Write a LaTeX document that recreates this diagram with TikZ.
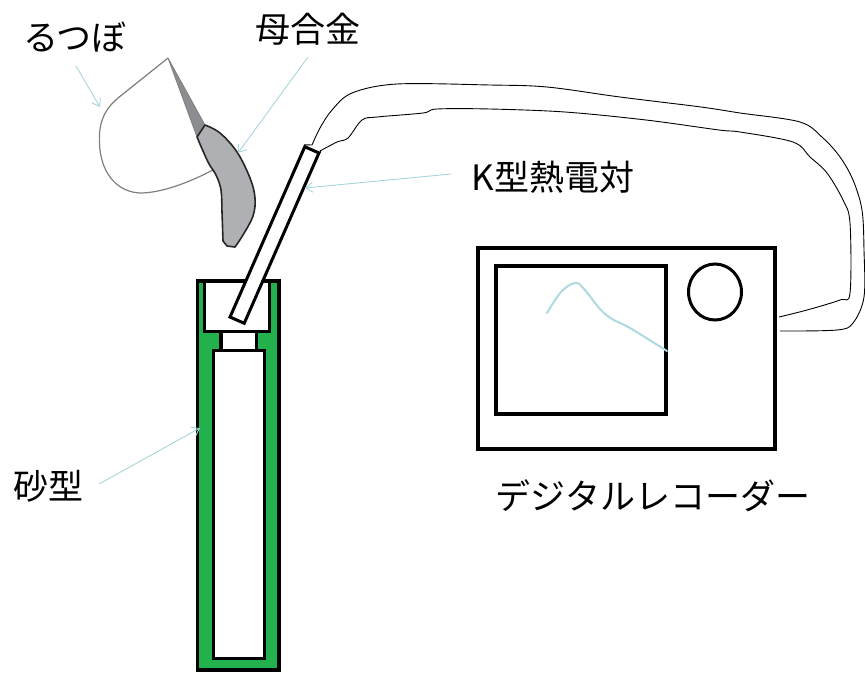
\documentclass[tikz,border=0pt]{standalone}
\usepackage{fontspec}
\newfontfamily\jpfont{Noto Sans CJK JP}
\usetikzlibrary{arrows.meta,shapes.geometric}
\definecolor{moldgreen}{HTML}{22B14C}
\definecolor{callblue}{HTML}{A6D6DB}
\definecolor{curveblue}{HTML}{AEDADF}
\definecolor{alloygray}{HTML}{AFB0B3}
\definecolor{rimgray}{HTML}{8C8D90}
\definecolor{potline}{HTML}{7F7F7F}
\tikzset{
  lbl/.style={font=\jpfont\fontsize{35}{40}\selectfont, inner sep=0pt, anchor=center},
  callout/.style={draw=callblue, line width=0.9pt, -{Straight Barb[length=7pt,width=10pt,line width=0.9pt]}},
  heavy/.style={draw=black, line width=3.2pt},
  wire/.style={draw=black, line width=0.9pt, line join=round},
}
\begin{document}
\begin{tikzpicture}[x=1pt,y=-1pt]
\useasboundingbox (0,0) rectangle (865,673);

% crucible body
\filldraw[fill=white, draw=potline, line width=1.2pt]
  (168,58) -- (118,98) .. controls (100,113) and (98,130) .. (100,150)
  .. controls (103,175) and (118,192) .. (140,193)
  .. controls (162,193) and (190,182) .. (213,170);
% inner rim of the crucible
\filldraw[fill=rimgray, draw=potline, line width=0.8pt]
  (168,58) -- (205,125) -- (197,137) -- cycle;
% molten master alloy pouring out
\filldraw[fill=alloygray, draw=black!85, line width=1.6pt, line join=round]
  (197,137) -- (205,125)
  -- plot[smooth, tension=0.6] coordinates {(205,125) (220,133) (237,152) (250,178) (255,198) (253,216) (243,235) (235,247)}
  -- (227,246) -- (223,241)
  -- plot[smooth, tension=0.6] coordinates {(223,241) (222,212) (221,190) (216,175) (208,162) (197,137)}
  -- cycle;

% sand mould
\filldraw[fill=moldgreen, heavy] (197.5,281) rectangle (279,670);
\filldraw[fill=white, heavy] (204.5,281) rectangle (269.5,331.5);
\filldraw[fill=white, heavy] (221,331.5) rectangle (256.5,350.5);
\filldraw[fill=white, heavy] (213.5,350.5) rectangle (264.5,658.5);
\draw[heavy] (197.5,281) -- (279,281);

% K-type thermocouple
\node[draw=black, line width=3pt, fill=white, minimum width=186pt, minimum height=15.5pt,
      inner sep=0pt, rotate=66.3] (tc) at (274.5,235) {};

% thermocouple lead
\draw[wire] (tc.north east) -- plot[smooth, tension=0.55] coordinates {
  (312,145) (320,128) (332,110) (352,93) (397,84) (490,85) (547,87) (620,97)
  (701,107) (740,113) (800,122) (823,138) (840,157) (853,180) (862,210)
  (864,250) (864,297) (853,323) (837,330) (780,331)} coordinate (leadA);
\draw[wire] (tc.south east) -- plot[smooth, tension=0.55] coordinates {
  (320,151) (337,142) (348,138) (362,120) (377,117) (423,113) (437,109) (490,109)
  (565,112) (646,120) (719,130) (740,132) (793,142) (810,157) (827,173)
  (843,200) (850,223) (850,293) (840,300) (807,310) (779,317)} coordinate (leadB);

% digital recorder
\node[draw=black, line width=3.2pt, fill=white, minimum width=297pt, minimum height=201pt,
      inner sep=0pt] (recorder) at (626.5,348.5) {};
\node[draw=black, line width=3.2pt, minimum width=170pt, minimum height=148pt,
      inner sep=0pt] (screen) at (581,340) {};
\node[draw=black, line width=3pt, ellipse, minimum width=53pt, minimum height=56pt,
      inner sep=0pt] (dial) at (715,292) {};
\draw[curveblue, line width=2pt, line cap=round]
  plot[smooth, tension=0.6] coordinates {(547,313) (561,292) (575,283) (584,289) (600,309) (612,319) (630,328) (667,351)};

% labels
\node[lbl] (tsubo) at (75,37) {るつぼ};
\node[lbl] (alloy) at (308,29) {母合金};
\node[lbl] (tclabel) at (553,177) {K型熱電対};
\node[lbl] (sand) at (48,486) {砂型};
\node[lbl] (reclabel) at (653,496) {デジタルレコーダー};

% leaders
\coordinate (tsuboS) at (76,66);   \coordinate (tsuboT) at (100,107);
\coordinate (alloyS) at (308,57);  \coordinate (alloyT) at (238,153);
\coordinate (tcS) at (451,174);    \coordinate (tcT) at (305,188);
\coordinate (sandS) at (99,484);   \coordinate (sandT) at (200,428);
\draw[callout] (tsuboS) -- (tsuboT);
\draw[callout] (alloyS) -- (alloyT);
\draw[callout] (tcS) -- (tcT);
\draw[callout] (sandS) -- (sandT);
\end{tikzpicture}
\end{document}
